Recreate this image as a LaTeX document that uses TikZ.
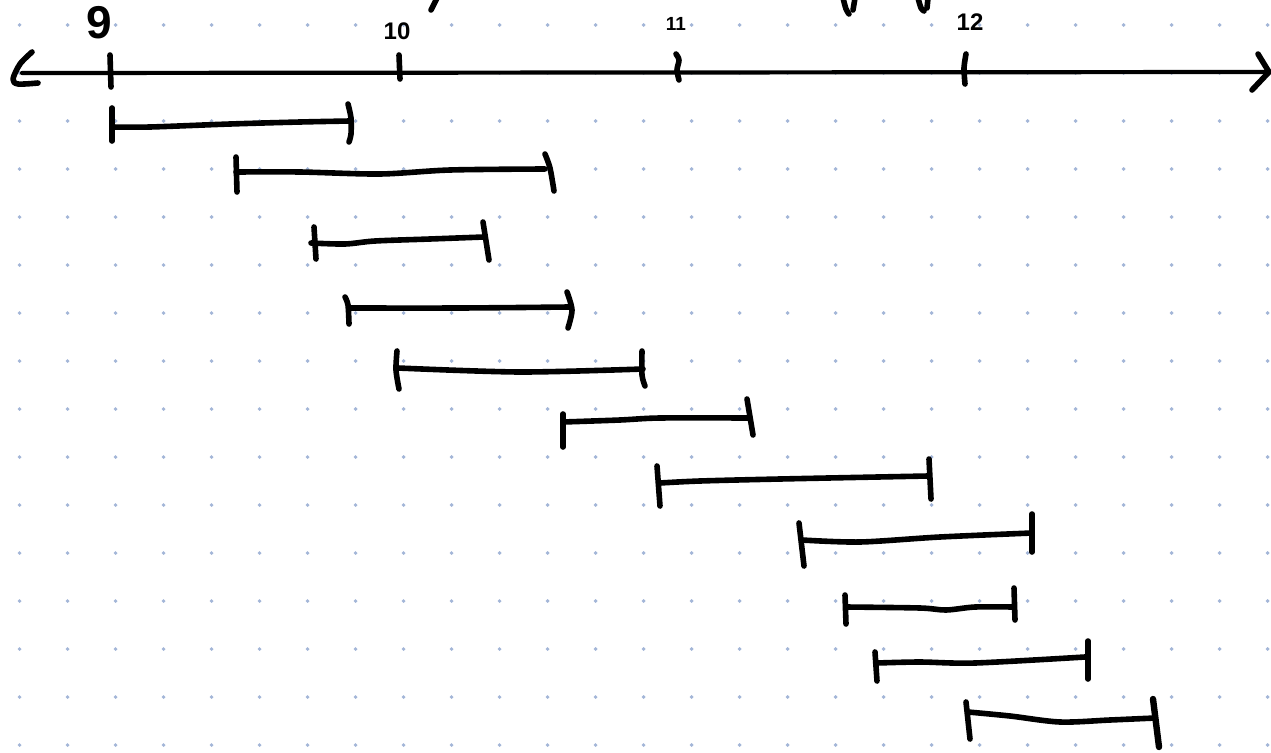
\documentclass[tikz,border=0pt]{standalone}
\usepackage{fontspec}
\setmainfont{Liberation Sans}
\begin{document}
\begin{tikzpicture}[x=1pt,y=-1pt,
  ink/.style={line width=5.6pt,line cap=round,line join=round,black},
  axisline/.style={line width=4.2pt,line cap=round,black},
  griddot/.style={fill=dotblue,draw=none},
  lbl/.style={inner sep=0pt,black}]
\definecolor{dotblue}{HTML}{A3B6D8}
\useasboundingbox (0,0) rectangle (1271,752);
\fill[white] (0,0) rectangle (1271,752);
% dot grid
\foreach \j in {0,...,15}{
  \foreach \k in {0,...,26}{
    \fill[griddot] ({19.6+48*\k},{25+48*\j}) circle (1.9pt);
  }
}
% cut-off strokes at the top edge
\draw[ink] (437,-2) -- (431,10);
\draw[ink] plot[smooth] coordinates {(843,-2) (846,9) (849,14)};
\draw[ink] (855,-2) -- (853,10);
\draw[ink] plot[smooth] coordinates {(918,-2) (921,8) (924,11)};
\draw[ink] (928,-2) -- (927,8);
% axis
\coordinate (axL) at (22,73);
\coordinate (axR) at (1268,72);
\draw[axisline] (axL) -- (axR);
\draw[ink] plot[smooth] coordinates {(32,52) (20,64) (13,79) (18,84) (38,83)};
\draw[ink] (1258,54) -- (1269,72) -- (1252,90);
% axis ticks
\draw[ink] (110,55) -- (111,87);
\draw[ink] (399,55) -- (400,79);
\draw[ink] plot[smooth] coordinates {(676,54) (679,60) (677,70) (679,80)};
\draw[ink] plot[smooth] coordinates {(966,54) (964,68) (965,84)};
% tick labels
\node[lbl,font=\fontsize{46}{46}\selectfont\bfseries] (l9) at (99,23) {9};
\node[lbl,font=\fontsize{24}{24}\selectfont\bfseries] (l10) at (397,31) {10};
\node[lbl,font=\fontsize{19}{19}\selectfont\bfseries] (l11) at (676,24) {11};
\node[lbl,font=\fontsize{24}{24}\selectfont\bfseries] (l12) at (970,22) {12};
% bar 1
\draw[ink] (112,108) -- (112,141);
\draw[ink] plot[smooth] coordinates {(112,127) (150,127) (230,124) (300,122) (350,121)};
\draw[ink] plot[smooth] coordinates {(348,104) (351,118) (351,134) (349,142)};
% bar 2
\draw[ink] (236,157) -- (237,192);
\draw[ink] plot[smooth] coordinates {(236,172) (300,172) (380,174) (450,170) (545,169)};
\draw[ink] plot[smooth] coordinates {(545,154) (550,168) (554,191)};
% bar 3
\draw[ink] (314,227) -- (316,259);
\draw[ink] plot[smooth] coordinates {(311,243) (345,244) (375,241) (430,239) (484,237)};
\draw[ink] (483,222) -- (489,260);
% bar 4
\draw[ink] plot[smooth] coordinates {(345,297) (348,305) (349,324)};
\draw[ink] plot[smooth] coordinates {(349,308) (460,308) (569,307)};
\draw[ink] plot[smooth] coordinates {(567,292) (572,310) (568,328)};
% bar 5
\draw[ink] plot[smooth] coordinates {(397,351) (396,370) (399,389)};
\draw[ink] plot[smooth] coordinates {(398,368) (520,372) (643,369)};
\draw[ink] plot[smooth] coordinates {(642,351) (642,375) (645,386)};
% bar 6
\draw[ink] (563,414) -- (563,447);
\draw[ink] plot[smooth] coordinates {(563,422) (620,420) (660,418) (748,418)};
\draw[ink] (747,399) -- (753,435);
% bar 7
\draw[ink] (657,466) -- (660,506);
\draw[ink] plot[smooth] coordinates {(660,483) (700,481) (780,479) (928,476)};
\draw[ink] (929,459) -- (931,499);
% bar 8
\draw[ink] (799,523) -- (804,566);
\draw[ink] plot[smooth] coordinates {(802,540) (860,542) (940,537) (1032,533)};
\draw[ink] (1032,514) -- (1032,552);
% bar 9
\draw[ink] (845,595) -- (846,624);
\draw[ink] plot[smooth] coordinates {(846,607) (920,608) (946,610) (975,607) (1013,607)};
\draw[ink] (1014,588) -- (1015,620);
% bar 10
\draw[ink] (875,652) -- (877,681);
\draw[ink] plot[smooth] coordinates {(877,663) (920,662) (975,663) (1085,657)};
\draw[ink] (1088,641) -- (1088,679);
% bar 11
\draw[ink] (966,702) -- (970,739);
\draw[ink] plot[smooth] coordinates {(968,712) (1010,716) (1060,722) (1110,720) (1155,718)};
\draw[line width=6.4pt,line cap=round] (1153,699) -- (1159,747);
\end{tikzpicture}
\end{document}
